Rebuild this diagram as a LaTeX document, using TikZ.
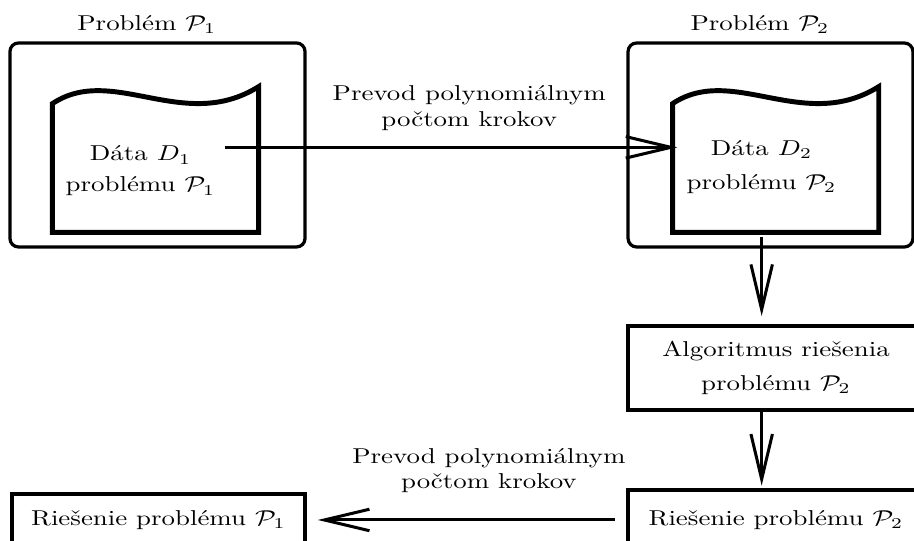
\documentclass[tikz,border=0pt]{standalone}
\usetikzlibrary{arrows.meta, positioning}

\begin{document}
\begin{tikzpicture}[
    x=0.3721pt, y=-0.4651pt, xscale=1.25, transform shape,
    frame/.style={draw, line width=1.5pt, rounded corners=4pt, inner sep=0pt,
                  minimum height=94.9pt},
    docarea/.style={inner sep=0pt, minimum width=76.3pt, minimum height=59.5pt},
    docline/.style={line width=2.3pt},
    box/.style={draw, line width=2pt, inner sep=0pt, align=center},
    txt/.style={align=center},
    arr/.style={-{Straight Barb[length=21pt, width=10pt]}, line width=1.4pt}
]
\useasboundingbox (0,0) rectangle (914,541);

% problem P1
\node[frame, minimum width=109.8pt,
      label={[xshift=-4pt]above:Problém $\mathcal{P}_1$}] (p1) at (157.5,145) {};
\node[docarea] (doc1) at (155.5,168) {};
\node[txt] (d1) at (140.5,171) {Dáta $D_1$\\[2.4pt]problému $\mathcal{P}_1$};

% problem P2
\node[frame, minimum width=106pt,
      label={[xshift=-4pt]above:Problém $\mathcal{P}_2$}] (p2) at (770.5,145) {};
\node[docarea] (doc2) at (775.5,168) {};
\node[txt] (d2) at (761.5,167) {Dáta $D_2$\\[3.6pt]problému $\mathcal{P}_2$};

% data sheets
\foreach \d in {doc1,doc2}
    \draw[docline] (\d.south west) -- (\d.north west)
        .. controls +(60,-40) and +(-75,47) .. ([yshift=7.9pt]\d.north east)
        -- (\d.south east) -- cycle;

\node[box, minimum width=110.1pt, minimum height=39.1pt] (alg) at (776,368)
    {Algoritmus riešenia\\[3.6pt]problému $\mathcal{P}_2$};
\node[box, minimum width=110.1pt, minimum height=27.9pt] (sol2) at (776,520)
    {Riešenie problému $\mathcal{P}_2$};
\node[box, minimum width=109pt, minimum height=24.2pt] (sol1) at (158.5,520)
    {Riešenie problému $\mathcal{P}_1$};

\coordinate (s1) at ([yshift=11pt]d1.east);
\draw[arr] (s1) -- (s1 -| d2.west)
    node[txt, above=3.8pt, pos=0.54] {Prevod polynomiálnym\\počtom krokov};
\draw[arr, shorten <=2.3pt, shorten >=3.6pt] (d2 |- doc2.south) -- (d2 |- alg.north);
\draw[arr, shorten >=1pt] (d2 |- alg.south) -- (d2 |- sol2.north);
\draw[arr, shorten <=5pt, shorten >=4.7pt] (sol2.west) -- (sol1.east)
    node[txt, above=8.5pt, pos=0.43] {Prevod polynomiálnym\\počtom krokov};
\end{tikzpicture}
\end{document}
